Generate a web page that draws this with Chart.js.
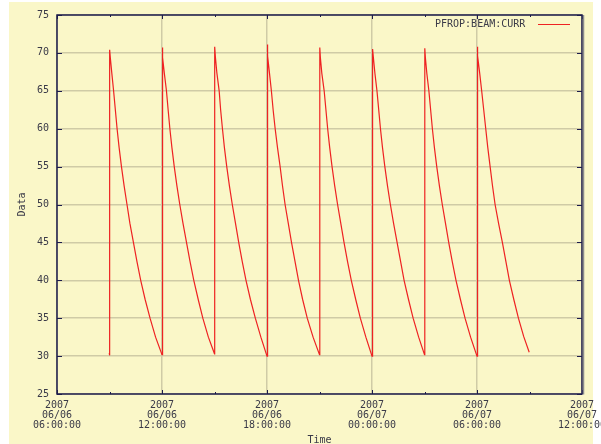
<!DOCTYPE html>
<html>
<head>
<meta charset="utf-8">
<script src="https://cdn.jsdelivr.net/npm/chart.js@4/dist/chart.umd.min.js"></script>
<style>
  html, body { margin: 0; padding: 0; background: #ffffff; }
  canvas { display: block; }
</style>
</head>
<body>
<canvas id="c" width="601" height="444"></canvas>
<script>
// PFROP:BEAM:CURR samples (2007, MM/DD HH:MM) and beam current values, one row per fill
const seriesName = 'PFROP:BEAM:CURR';
const times = [
  '06/06 08:59','06/06 09:00','06/06 09:01','06/06 09:03','06/06 09:08','06/06 09:14','06/06 09:20','06/06 09:26','06/06 09:33','06/06 09:41','06/06 09:50','06/06 10:00','06/06 10:10','06/06 10:22','06/06 10:34','06/06 10:47','06/06 11:02','06/06 11:19','06/06 11:38','06/06 12:00',
  '06/06 12:01','06/06 12:03','06/06 12:08','06/06 12:15','06/06 12:21','06/06 12:27','06/06 12:34','06/06 12:42','06/06 12:51','06/06 13:01','06/06 13:12','06/06 13:24','06/06 13:36','06/06 13:49','06/06 14:04','06/06 14:20','06/06 14:39','06/06 15:00',
  '06/06 15:00','06/06 15:01','06/06 15:01','06/06 15:03','06/06 15:08','06/06 15:16','06/06 15:21','06/06 15:27','06/06 15:34','06/06 15:42','06/06 15:51','06/06 16:01','06/06 16:12','06/06 16:23','06/06 16:35','06/06 16:48','06/06 17:03','06/06 17:20','06/06 17:39','06/06 18:00',
  '06/06 18:01','06/06 18:03','06/06 18:08','06/06 18:15','06/06 18:21','06/06 18:28','06/06 18:36','06/06 18:45','06/06 18:53','06/06 19:02','06/06 19:13','06/06 19:24','06/06 19:36','06/06 19:48','06/06 20:02','06/06 20:18','06/06 20:38','06/06 21:00',
  '06/06 21:01','06/06 21:03','06/06 21:08','06/06 21:16','06/06 21:22','06/06 21:28','06/06 21:35','06/06 21:43','06/06 21:52','06/06 22:02','06/06 22:13','06/06 22:24','06/06 22:36','06/06 22:49','06/06 23:04','06/06 23:20','06/06 23:39','06/07 00:00',
  '06/07 00:00','06/07 00:03','06/07 00:03','06/07 00:05','06/07 00:10','06/07 00:17','06/07 00:23','06/07 00:29','06/07 00:36','06/07 00:44','06/07 00:53','06/07 01:03','06/07 01:14','06/07 01:26','06/07 01:38','06/07 01:50','06/07 02:05','06/07 02:21','06/07 02:40','06/07 03:00',
  '06/07 03:01','06/07 03:03','06/07 03:08','06/07 03:15','06/07 03:21','06/07 03:27','06/07 03:34','06/07 03:42','06/07 03:51','06/07 04:01','06/07 04:12','06/07 04:23','06/07 04:35','06/07 04:48','06/07 05:03','06/07 05:19','06/07 05:38','06/07 06:00',
  '06/07 06:01','06/07 06:03','06/07 06:09','06/07 06:16','06/07 06:23','06/07 06:30','06/07 06:37','06/07 06:45','06/07 06:53','06/07 07:02','06/07 07:14','06/07 07:27','06/07 07:39','06/07 07:51','06/07 08:06','06/07 08:22','06/07 08:40','06/07 08:59'
];
const current = [
  30.4, 30.1, 70.4, 69.3, 67.3, 65.0, 62.5, 60.0, 57.5, 55.0, 52.5, 50.0, 47.5, 45.0, 42.5, 40.0, 37.5, 35.0, 32.5, 30.2,
  70.7, 69.4, 67.3, 65.1, 62.5, 60.0, 57.5, 55.0, 52.5, 50.0, 47.5, 45.0, 42.5, 40.0, 37.5, 35.0, 32.5, 30.3,
  42.7, 42.9, 70.8, 69.5, 67.4, 65.0, 62.5, 60.1, 57.5, 55.0, 52.5, 50.0, 47.5, 45.0, 42.5, 40.0, 37.5, 35.0, 32.5, 30.0,
  71.1, 69.6, 67.5, 65.0, 62.5, 60.0, 57.5, 55.0, 52.5, 50.0, 47.5, 45.0, 42.5, 40.0, 37.5, 35.0, 32.5, 30.2,
  70.7, 69.4, 67.3, 65.0, 62.5, 60.0, 57.5, 55.0, 52.5, 50.0, 47.5, 45.0, 42.5, 40.0, 37.5, 35.0, 32.5, 30.0,
  61.0, 61.3, 70.5, 69.3, 67.3, 65.0, 62.5, 60.0, 57.5, 55.0, 52.5, 50.0, 47.5, 45.0, 42.5, 40.0, 37.5, 35.0, 32.5, 30.2,
  70.6, 69.4, 67.3, 65.0, 62.5, 60.0, 57.5, 55.0, 52.5, 50.0, 47.5, 45.0, 42.5, 40.0, 37.5, 35.0, 32.5, 30.0,
  70.8, 69.6, 67.4, 65.0, 62.5, 60.0, 57.5, 55.0, 52.5, 50.0, 47.5, 45.0, 42.5, 40.0, 37.5, 35.0, 32.6, 30.5
];
const xStart = '06/06 06:00';
const xEnd = '06/07 12:00';
const yTicks = [25, 30, 35, 40, 45, 50, 55, 60, 65, 70, 75];
const yearLabel = '2007';

const HOUR = 3600e3;
function toMs(s) {
  const [md, hm] = s.split(' ');
  const [mo, d] = md.split('/').map(Number);
  const [h, mi] = hm.split(':').map(Number);
  return Date.UTC(2007, mo - 1, d, h, mi);
}
const pad2 = n => String(n).padStart(2, '0');

const FAMILY = '"DejaVu Sans Mono", "Liberation Mono", monospace';
const FONT = '10px ' + FAMILY;
const TEXT = '#3a3a48';
const FRAME = '#1c1c4c';
const GRID = '#cfcba6';
const PANEL = 'rgb(250,247,200)';
const LINE = 'rgb(238,34,34)';

const points = times.map((t, i) => ({ x: toMs(t), y: current[i] }));

const framePlugin = {
  id: 'frame',
  beforeDraw(chart) {
    const ctx = chart.ctx;
    ctx.save();
    ctx.fillStyle = '#ffffff';
    ctx.fillRect(0, 0, chart.width, chart.height);
    ctx.fillStyle = PANEL;
    ctx.fillRect(9, 2, 584, 442);
    ctx.restore();
  },
  afterDraw(chart) {
    const { ctx, chartArea: a, scales } = chart;
    const xs = scales.x, ys = scales.y;
    ctx.save();
    // inward tick marks on all four sides
    ctx.strokeStyle = FRAME;
    ctx.lineWidth = 1;
    const x0 = xs.min, x1 = xs.max;
    for (let v = x0; v <= x1 + 1; v += 3 * HOUR) {
      const px = Math.round(xs.getPixelForValue(v)) + 0.5;
      const major = Math.round((v - x0) / HOUR) % 6 === 0;
      const len = major ? 4 : 2;
      ctx.beginPath();
      ctx.moveTo(px, a.bottom); ctx.lineTo(px, a.bottom - len);
      ctx.moveTo(px, a.top); ctx.lineTo(px, a.top + len);
      ctx.stroke();
    }
    yTicks.forEach(v => {
      const py = Math.round(ys.getPixelForValue(v)) + 0.5;
      ctx.beginPath();
      ctx.moveTo(a.left, py); ctx.lineTo(a.left + 5, py);
      ctx.moveTo(a.right, py); ctx.lineTo(a.right - 5, py);
      ctx.stroke();
    });
    // plot frame
    ctx.lineWidth = 1.5;
    ctx.strokeRect(a.left, a.top, a.right - a.left, a.bottom - a.top);
    ctx.strokeStyle = '#8c8c8c';
    ctx.lineWidth = 1.5;
    ctx.beginPath();
    ctx.moveTo(a.right + 1.5, a.top);
    ctx.lineTo(a.right + 1.5, a.bottom + 0.5);
    ctx.stroke();

    // axis titles
    ctx.fillStyle = TEXT;
    ctx.font = FONT;
    ctx.textAlign = 'center';
    ctx.textBaseline = 'middle';
    ctx.fillText('Time', (a.left + a.right) / 2, 440);
    ctx.save();
    ctx.translate(22, (a.top + a.bottom) / 2);
    ctx.rotate(-Math.PI / 2);
    ctx.fillText('Data', 0, 0);
    ctx.restore();

    // legend
    ctx.textAlign = 'left';
    ctx.fillText(seriesName, 435, 24);
    ctx.strokeStyle = LINE;
    ctx.lineWidth = 1;
    ctx.beginPath();
    ctx.moveTo(538, 24.5);
    ctx.lineTo(570, 24.5);
    ctx.stroke();
    ctx.restore();
  }
};

new Chart(document.getElementById('c'), {
  type: 'line',
  data: {
    datasets: [{
      label: seriesName,
      data: points,
      borderColor: LINE,
      borderWidth: 1.2,
      pointRadius: 0,
      tension: 0,
      fill: false
    }]
  },
  options: {
    responsive: false,
    animation: false,
    devicePixelRatio: 1,
    layout: { padding: { left: 0, right: 19, top: 15, bottom: 0 } },
    plugins: { legend: { display: false }, tooltip: { enabled: false } },
    scales: {
      x: {
        type: 'linear',
        min: toMs(xStart),
        max: toMs(xEnd),
        afterBuildTicks(scale) {
          const t = [];
          for (let v = scale.min; v <= scale.max + 1; v += 6 * HOUR) t.push({ value: v });
          scale.ticks = t;
        },
        afterFit(scale) {
          scale.height = 50;
          scale.paddingLeft = 0;
          scale.paddingRight = 0;
        },
        ticks: {
          autoSkip: false,
          maxRotation: 0,
          minRotation: 0,
          padding: 6,
          color: TEXT,
          font: { family: FAMILY, size: 10, lineHeight: 1.0 },
          callback(v) {
            const d = new Date(v);
            return [yearLabel,
              pad2(d.getUTCMonth() + 1) + '/' + pad2(d.getUTCDate()),
              pad2(d.getUTCHours()) + ':' + pad2(d.getUTCMinutes()) + ':00'];
          }
        },
        grid: { color: GRID, lineWidth: 1.5, drawTicks: false },
        border: { display: false }
      },
      y: {
        min: 25,
        max: 75,
        afterBuildTicks(scale) { scale.ticks = yTicks.map(v => ({ value: v })); },
        afterFit(scale) {
          scale.width = 57;
          scale.paddingTop = 0;
          scale.paddingBottom = 0;
        },
        ticks: {
          padding: 8,
          color: TEXT,
          font: { family: FAMILY, size: 10 }
        },
        grid: { color: GRID, lineWidth: 1.5, drawTicks: false },
        border: { display: false }
      }
    }
  },
  plugins: [framePlugin]
});
</script>
</body>
</html>
